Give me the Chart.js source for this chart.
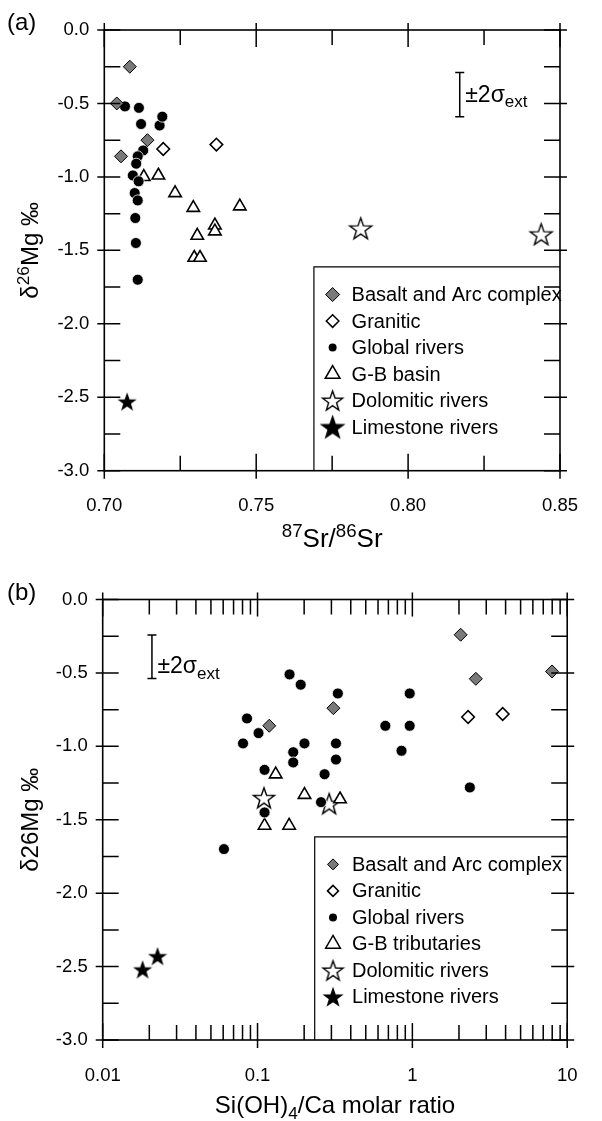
<!DOCTYPE html>
<html>
<head>
<meta charset="utf-8">
<script src="https://cdn.jsdelivr.net/npm/chart.js@4.4.1/dist/chart.umd.min.js"></script>
<style>
  body { margin: 0; background: #fff; }
  canvas { display: block; }
</style>
</head>
<body>
<canvas id="chartA" width="602" height="560"></canvas>
<canvas id="chartB" width="602" height="561"></canvas>
<script>
// ---- panel (a): d26Mg vs 87Sr/86Sr ----
const basaltSrA = [0.7084, 0.7041, 0.7055, 0.7142];
const basaltMgA = [-0.25, -0.50, -0.86, -0.75];
const graniticSrA = [0.7194, 0.7369];
const graniticMgA = [-0.81, -0.78];
const globalSrA = [0.7068, 0.7114, 0.7121, 0.7182, 0.7191, 0.7128, 0.7110, 0.7105, 0.7094, 0.7113, 0.7100, 0.7110, 0.7102, 0.7104, 0.7110];
const globalMgA = [-0.52, -0.53, -0.64, -0.65, -0.59, -0.82, -0.86, -0.91, -0.99, -1.03, -1.11, -1.16, -1.28, -1.45, -1.70];
const gbSrA = [0.7130, 0.7178, 0.7233, 0.7293, 0.7306, 0.7296, 0.7315, 0.7364, 0.7364, 0.7446];
const gbMgA = [-1.00, -0.99, -1.11, -1.21, -1.40, -1.55, -1.55, -1.33, -1.37, -1.20];
const dolomiticSrA = [0.7844, 0.8438];
const dolomiticMgA = [-1.35, -1.39];
const limestoneSrA = [0.7075];
const limestoneMgA = [-2.53];

// ---- panel (b): d26Mg vs Si(OH)4/Ca ----
const basaltSiB = [0.119, 0.309, 2.05, 2.57, 7.98];
const basaltMgB = [-0.86, -0.74, -0.24, -0.54, -0.49];
const graniticSiB = [2.29, 3.83];
const graniticMgB = [-0.80, -0.78];
const globalSiB = [0.161, 0.190, 0.330, 0.0855, 0.1015, 0.0806, 0.201, 0.170, 0.170, 0.321, 0.321, 0.271, 0.257, 0.111, 0.111, 0.0607, 0.669, 0.961, 0.961, 0.851, 2.35];
const globalMgB = [-0.51, -0.58, -0.64, -0.81, -0.91, -0.98, -0.98, -1.04, -1.11, -0.98, -1.09, -1.19, -1.38, -1.16, -1.45, -1.70, -0.86, -0.64, -0.86, -1.03, -1.28];
const gbSiB = [0.131, 0.201, 0.341, 0.111, 0.160];
const gbMgB = [-1.19, -1.33, -1.36, -1.54, -1.54];
const dolomiticSiB = [0.110, 0.290];
const dolomiticMgB = [-1.35, -1.39];
const limestoneSiB = [0.0181, 0.0226];
const limestoneMgB = [-2.52, -2.43];

// axis ticks
const mgTicks = [0, -0.5, -1.0, -1.5, -2.0, -2.5, -3.0];
const srTicks = [0.70, 0.75, 0.80, 0.85];
const ratioTicks = [0.01, 0.1, 1, 10];

// +-2 sigma external reproducibility bar: [x, centre, half-width]
const errA = [0.817, -0.44, 0.15];
const errB = [0.0208, -0.39, 0.148];

// corner of legend frame (data units)
const legendCornerA = [0.769, -1.613];
const legendCornerB = [0.234, -1.616];

const FONT = '"Liberation Sans", Arial, Helvetica, sans-serif';

function pts(xs, ys) {
    return xs.map((v, i) => ({ x: v, y: ys[i] }));
}

function starImage(R, filled) {
    const size = Math.ceil(2 * R + 4);
    const c = document.createElement('canvas');
    c.width = c.height = size;
    const g = c.getContext('2d');
    const cx = size / 2, cy = size / 2 + R * 0.095;
    g.beginPath();
    for (let k = 0; k < 10; k++) {
        const rr = k % 2 ? R * 0.4 : R;
        const ang = -Math.PI / 2 + k * Math.PI / 5;
        const px = cx + rr * Math.cos(ang), py = cy + rr * Math.sin(ang);
        if (k) g.lineTo(px, py); else g.moveTo(px, py);
    }
    g.closePath();
    g.fillStyle = filled ? '#000' : '#fff';
    g.fill();
    g.lineWidth = 1.4;
    g.strokeStyle = '#000';
    g.stroke();
    return c;
}

const GRAY = '#7a7a7a';

function makeDatasets(p) {
    return [
        { label: 'Basalt and Arc complex', data: pts(p.basalt[0], p.basalt[1]), pointStyle: 'rectRot',
          pointRadius: 6.5, backgroundColor: GRAY, borderColor: '#000', borderWidth: 1,
          legendMark: { shape: 'rectRot', r: p.lg.basalt, fill: GRAY, lw: 1 } },
        { label: 'Granitic', data: pts(p.granitic[0], p.granitic[1]), pointStyle: 'rectRot',
          pointRadius: 6.3, backgroundColor: '#fff', borderColor: '#000', borderWidth: 1.6,
          legendMark: { shape: 'rectRot', r: p.lg.granitic, fill: '#fff', lw: 1.5 } },
        { label: 'Global rivers', data: pts(p.global[0], p.global[1]), pointStyle: 'circle',
          pointRadius: 5.5, backgroundColor: '#000', borderColor: '#fff', borderWidth: 0.8,
          legendMark: { shape: 'circle', r: 4, fill: '#000', lw: 0 } },
        { label: p.gbLabel, data: pts(p.gb[0], p.gb[1]), pointStyle: 'triangle',
          pointRadius: 7.2, backgroundColor: '#fff', borderColor: '#000', borderWidth: 1.6,
          legendMark: { shape: 'triangle', r: 8.5, fill: '#fff', lw: 1.5 } },
        { label: 'Dolomitic rivers', data: pts(p.dolomitic[0], p.dolomitic[1]), pointStyle: starImage(p.starOpen, false),
          pointRadius: 10, backgroundColor: '#fff', borderColor: '#000', borderWidth: 1,
          legendMark: { img: starImage(10.5, false) } },
        { label: 'Limestone rivers', data: pts(p.limestone[0], p.limestone[1]), pointStyle: starImage(p.starFilled, true),
          pointRadius: 8, backgroundColor: '#000', borderColor: '#000', borderWidth: 1,
          legendMark: { img: starImage(p.lg.lime, true) } }
    ].map(d => Object.assign({ showLine: false }, d, { pointHoverRadius: d.pointRadius }));
}

function shapePath(ctx, shape, x, y, r) {
    ctx.beginPath();
    if (shape === 'circle') {
        ctx.arc(x, y, r, 0, Math.PI * 2);
    } else if (shape === 'rectRot') {
        ctx.moveTo(x - r, y); ctx.lineTo(x, y - r); ctx.lineTo(x + r, y); ctx.lineTo(x, y + r);
    } else if (shape === 'triangle') {
        for (let k = 0; k < 3; k++) {
            const a = k * 2 * Math.PI / 3;
            const px = x + Math.sin(a) * r, py = y - Math.cos(a) * r;
            if (k) ctx.lineTo(px, py); else ctx.moveTo(px, py);
        }
    }
    ctx.closePath();
}

// text with super/subscript pieces: [[text, ''|'sup'|'sub'], ...]
function drawRich(ctx, parts, x, y, size, align, small) {
    const k = small || 0.68;
    let w = 0;
    const m = parts.map(([t, mode]) => {
        const s = mode ? size * k : size;
        ctx.font = s + 'px ' + FONT;
        const tw = ctx.measureText(t).width;
        w += tw;
        return { t, s, tw, dy: mode === 'sup' ? -size * 0.38 : mode === 'sub' ? size * 0.24 : 0 };
    });
    let cx = align === 'center' ? x - w / 2 : x;
    ctx.textAlign = 'left';
    ctx.textBaseline = 'alphabetic';
    m.forEach(p => {
        ctx.font = p.s + 'px ' + FONT;
        ctx.fillText(p.t, cx, y + p.dy);
        cx += p.tw;
    });
}

const panelDecor = {
    id: 'panelDecor',
    afterDraw(chart, args, o) {
        const { ctx, chartArea: a, scales: { x, y } } = chart;
        ctx.save();
        ctx.strokeStyle = '#000';
        ctx.fillStyle = '#000';

        // legend frame
        const lx = x.getPixelForValue(o.legendCorner[0]);
        const ly = y.getPixelForValue(o.legendCorner[1]);
        ctx.lineWidth = 1.2;
        ctx.beginPath();
        ctx.moveTo(lx, a.bottom); ctx.lineTo(lx, ly); ctx.lineTo(a.right, ly);
        ctx.stroke();

        // legend rows
        chart.data.datasets.forEach((ds, i) => {
            const ry = ly + o.legendFirst + i * o.legendStep;
            const mx = lx + o.legendMarkX;
            const lm = ds.legendMark;
            if (lm.img) {
                ctx.drawImage(lm.img, mx - lm.img.width / 2, ry - lm.img.height / 2);
            } else {
                shapePath(ctx, lm.shape, mx, ry, lm.r);
                ctx.fillStyle = lm.fill;
                ctx.fill();
                if (lm.lw) { ctx.lineWidth = lm.lw; ctx.strokeStyle = '#000'; ctx.stroke(); }
            }
            ctx.fillStyle = '#000';
            ctx.font = o.legendFont + 'px ' + FONT;
            ctx.textAlign = 'left';
            ctx.textBaseline = 'middle';
            ctx.fillText(ds.label, lx + o.legendTextX, ry + 1);
        });

        // frame
        ctx.lineWidth = 1.6;
        ctx.strokeStyle = '#000';
        ctx.strokeRect(a.left, a.top, a.width, a.height);

        // y ticks (both sides)
        ctx.lineWidth = 1.5;
        ctx.beginPath();
        for (let v = 0; v >= -3.0001; v -= 0.25) {
            const py = y.getPixelForValue(v);
            const major = Math.abs(v * 2 - Math.round(v * 2)) < 1e-6;
            ctx.moveTo(a.left - (major ? 7 : 0), py); ctx.lineTo(a.left + 16, py);
            ctx.moveTo(a.right + (major ? 7 : 0), py); ctx.lineTo(a.right - 16, py);
        }
        // x ticks (top and bottom)
        o.xTickValues().forEach(([v, major]) => {
            const px = x.getPixelForValue(v);
            ctx.moveTo(px, a.bottom + (major ? 8 : 0)); ctx.lineTo(px, a.bottom - (major ? 17 : 15));
            ctx.moveTo(px, a.top - (major ? 7 : 0)); ctx.lineTo(px, a.top + (major ? 17 : 15));
        });
        ctx.stroke();

        // error bar
        const ex = x.getPixelForValue(o.err[0]);
        const e1 = y.getPixelForValue(o.err[1] + o.err[2]);
        const e2 = y.getPixelForValue(o.err[1] - o.err[2]);
        ctx.lineWidth = 1.5;
        ctx.beginPath();
        ctx.moveTo(ex, e1); ctx.lineTo(ex, e2);
        ctx.moveTo(ex - 4.5, e1); ctx.lineTo(ex + 4.5, e1);
        ctx.moveTo(ex - 4.5, e2); ctx.lineTo(ex + 4.5, e2);
        ctx.stroke();
        const ec = y.getPixelForValue(o.err[1]);
        drawRich(ctx, [['\u00B12\u03C3', ''], ['ext', 'sub']], ex + 5.5, ec + o.errTextDy, 23, 'left', 0.74);

        // panel letter
        ctx.font = '24px ' + FONT;
        ctx.textAlign = 'left';
        ctx.textBaseline = 'alphabetic';
        ctx.fillText(o.letter, 7, o.letterY);

        // axis titles
        drawRich(ctx, o.xTitle, (a.left + a.right) / 2, o.xTitleY, o.xTitleSize, 'center', 0.72);
        ctx.save();
        ctx.translate(o.yTitleX, (a.top + a.bottom) / 2);
        ctx.rotate(-Math.PI / 2);
        drawRich(ctx, o.yTitle, 0, 0, 24, 'center', 0.72);
        ctx.restore();

        ctx.restore();
    }
};

function yAxis(width) {
    return {
        type: 'linear', min: -3, max: 0,
        border: { display: false },
        grid: { display: false, drawTicks: false },
        afterBuildTicks: s => { s.ticks = mgTicks.map(v => ({ value: v })); },
        ticks: { callback: v => v.toFixed(1), font: { family: FONT, size: 18.5 }, color: '#000', padding: 15 },
        afterFit: s => { s.width = width; }
    };
}

// panel (a)
new Chart(document.getElementById('chartA'), {
    type: 'scatter',
    data: {
        datasets: makeDatasets({
            basalt: [basaltSrA, basaltMgA], granitic: [graniticSrA, graniticMgA],
            global: [globalSrA, globalMgA], gb: [gbSrA, gbMgA],
            dolomitic: [dolomiticSrA, dolomiticMgA], limestone: [limestoneSrA, limestoneMgA],
            gbLabel: 'G-B basin', starOpen: 11.5, starFilled: 8,
            lg: { basalt: 7, granitic: 6.3, lime: 11.5 }
        })
    },
    options: {
        responsive: false,
        animation: false,
        events: [],
        layout: { padding: { top: 30, right: 21, left: 0, bottom: 0 } },
        plugins: {
            legend: { display: false },
            tooltip: { enabled: false },
            panelDecor: {
                letter: '(a)', letterY: 30,
                legendCorner: legendCornerA, legendFirst: 27.6, legendStep: 26.5,
                legendMarkX: 18.7, legendTextX: 37.7, legendFont: 20,
                err: errA, errTextDy: 7,
                xTitle: [['87', 'sup'], ['Sr/', ''], ['86', 'sup'], ['Sr', '']], xTitleY: 547, xTitleSize: 26,
                yTitle: [['\u03B4', ''], ['26', 'sup'], ['Mg \u2030', '']], yTitleX: 38,
                xTickValues: () => {
                    const out = [];
                    for (let k = 0; k <= 6; k++) out.push([0.70 + k * 0.025, k % 2 === 0]);
                    return out;
                }
            }
        },
        scales: {
            x: {
                type: 'linear', min: 0.70, max: 0.85,
                border: { display: false },
                grid: { display: false, drawTicks: false },
                afterBuildTicks: s => { s.ticks = srTicks.map(v => ({ value: v })); },
                ticks: { callback: v => v.toFixed(2), font: { family: FONT, size: 18.5 }, color: '#000',
                         padding: 24, maxRotation: 0, autoSkip: false },
                afterFit: s => { s.height = 89.3; }
            },
            y: yAxis(104.3)
        }
    },
    plugins: [panelDecor]
});

// panel (b)
new Chart(document.getElementById('chartB'), {
    type: 'scatter',
    data: {
        datasets: makeDatasets({
            basalt: [basaltSiB, basaltMgB], granitic: [graniticSiB, graniticMgB],
            global: [globalSiB, globalMgB], gb: [gbSiB, gbMgB],
            dolomitic: [dolomiticSiB, dolomiticMgB], limestone: [limestoneSiB, limestoneMgB],
            gbLabel: 'G-B tributaries', starOpen: 11, starFilled: 8,
            lg: { basalt: 5.5, granitic: 5.5, lime: 9 }
        })
    },
    options: {
        responsive: false,
        animation: false,
        events: [],
        layout: { padding: { top: 39.5, right: 28.3, left: 0, bottom: 0 } },
        plugins: {
            legend: { display: false },
            tooltip: { enabled: false },
            panelDecor: {
                letter: '(b)', letterY: 40,
                legendCorner: legendCornerB, legendFirst: 27.6, legendStep: 26.5,
                legendMarkX: 18.3, legendTextX: 37.3, legendFont: 20,
                err: errB, errTextDy: 16.6,
                xTitle: [['Si(OH)', ''], ['4', 'sub'], ['/Ca molar ratio', '']], xTitleY: 553, xTitleSize: 24,
                yTitle: [['\u03B426Mg \u2030', '']], yTitleX: 38,
                xTickValues: () => {
                    const out = [];
                    for (let e = -2; e <= 0; e++) {
                        for (let m = 1; m <= 9; m++) out.push([m * Math.pow(10, e), m === 1]);
                    }
                    out.push([10, true]);
                    return out;
                }
            }
        },
        scales: {
            x: {
                type: 'logarithmic', min: 0.01, max: 10,
                border: { display: false },
                grid: { display: false, drawTicks: false },
                afterBuildTicks: s => { s.ticks = ratioTicks.map(v => ({ value: v })); },
                ticks: { callback: v => String(+v.toPrecision(3)), font: { family: FONT, size: 18.5 }, color: '#000',
                         padding: 24.5, maxRotation: 0, autoSkip: false },
                afterFit: s => { s.height = 81; }
            },
            y: yAxis(102.7)
        }
    },
    plugins: [panelDecor]
});
</script>
</body>
</html>
